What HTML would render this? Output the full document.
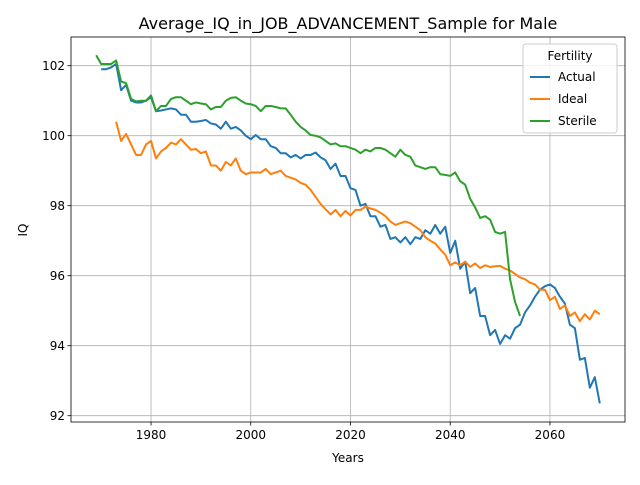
<!DOCTYPE html>
<html><head><meta charset="utf-8"><style>
body{margin:0;background:#fff;font-family:"Liberation Sans","DejaVu Sans",sans-serif}
svg text{font-family:"DejaVu Sans","Liberation Sans",sans-serif}
</style></head><body>
<svg id="chart" width="640" height="480" xmlns="http://www.w3.org/2000/svg">
<rect width="640" height="480" fill="#fff"/>
<g id="grid"></g><g id="series"></g><g id="axes"></g>
<text x="348" y="29" font-size="16" text-anchor="middle">Average_IQ_in_JOB_ADVANCEMENT_Sample for Male</text>
<text x="348" y="462" font-size="12" text-anchor="middle">Years</text>
<text x="27" y="230" font-size="12" text-anchor="middle" transform="rotate(-90 27 230)">IQ</text>
<g id="legend">
<rect x="523" y="44" width="94" height="89" rx="3" fill="#fff" fill-opacity="0.8" stroke="#ccc"/>
<text x="570" y="60" font-size="12" text-anchor="middle">Fertility</text>
<line x1="530" y1="77" x2="550" y2="77" stroke="#1f77b4" stroke-width="2"/><text x="558" y="81" font-size="12">Actual</text>
<line x1="530" y1="99" x2="550" y2="99" stroke="#ff7f0e" stroke-width="2"/><text x="558" y="103" font-size="12">Ideal</text>
<line x1="530" y1="121" x2="550" y2="121" stroke="#2ca02c" stroke-width="2"/><text x="558" y="125" font-size="12">Sterile</text>
</g>
</svg>
<script>
const actualStart = 1970;
const actualValues = [101.9,101.9,101.95,102.05,101.3,101.45,101.0,100.95,100.95,101.0,101.1,100.7,100.72,100.75,100.78,100.75,100.6,100.6,100.4,100.4,100.42,100.45,100.35,100.32,100.2,100.4,100.2,100.25,100.15,100.0,99.9,100.02,99.9,99.9,99.7,99.65,99.5,99.5,99.38,99.45,99.35,99.45,99.45,99.52,99.38,99.3,99.05,99.2,98.85,98.85,98.5,98.45,98.0,98.05,97.7,97.7,97.4,97.45,97.05,97.1,96.95,97.1,96.9,97.1,97.05,97.3,97.2,97.45,97.2,97.4,96.65,97.0,96.2,96.4,95.5,95.65,94.85,94.85,94.3,94.45,94.05,94.3,94.2,94.5,94.6,94.95,95.15,95.4,95.6,95.7,95.75,95.65,95.4,95.2,94.6,94.5,93.6,93.65,92.8,93.1,92.35];
const idealStart = 1973;
const idealValues = [100.4,99.85,100.05,99.75,99.45,99.45,99.75,99.85,99.35,99.55,99.65,99.8,99.75,99.9,99.75,99.6,99.62,99.5,99.55,99.15,99.15,99.0,99.25,99.15,99.35,99.0,98.9,98.95,98.95,98.95,99.05,98.9,98.95,99.0,98.85,98.8,98.75,98.65,98.6,98.45,98.25,98.05,97.9,97.75,97.88,97.7,97.85,97.72,97.88,97.88,97.97,97.92,97.88,97.8,97.7,97.55,97.45,97.5,97.55,97.5,97.4,97.3,97.1,97.0,96.92,96.75,96.6,96.3,96.38,96.3,96.4,96.25,96.35,96.22,96.3,96.25,96.27,96.28,96.2,96.15,96.05,95.95,95.9,95.8,95.75,95.6,95.6,95.3,95.4,95.05,95.15,94.85,94.95,94.7,94.9,94.75,95.0,94.9];
const sterileStart = 1969;
const sterileValues = [102.3,102.05,102.05,102.05,102.15,101.55,101.5,101.05,100.98,101.0,101.0,101.15,100.7,100.85,100.85,101.05,101.1,101.1,101.0,100.9,100.95,100.92,100.9,100.75,100.82,100.82,101.0,101.08,101.1,101.0,100.92,100.9,100.85,100.7,100.85,100.85,100.82,100.78,100.78,100.6,100.4,100.25,100.15,100.02,100.0,99.95,99.85,99.75,99.78,99.7,99.7,99.65,99.6,99.5,99.6,99.55,99.65,99.65,99.6,99.5,99.4,99.6,99.45,99.4,99.15,99.1,99.05,99.1,99.1,98.9,98.88,98.85,98.95,98.7,98.6,98.2,97.95,97.65,97.7,97.6,97.25,97.2,97.25,95.9,95.25,94.85];
const xTicks = [1980,2000,2020,2040,2060];
const yTicks = [92,94,96,98,100,102];

const L=71,R=625,T=37,B=422;
const xMin=1963.95,xMax=2075.05,yMin=91.82,yMax=102.82;
const xs=v=>L+(v-xMin)/(xMax-xMin)*(R-L);
const ys=v=>B-(v-yMin)/(yMax-yMin)*(B-T);
const NS="http://www.w3.org/2000/svg";
function mk(tag,attrs,parent){const e=document.createElementNS(NS,tag);for(const k in attrs)e.setAttribute(k,attrs[k]);parent.appendChild(e);return e;}
const grid=document.getElementById('grid'),axes=document.getElementById('axes'),ser=document.getElementById('series');
xTicks.forEach(t=>{const x=xs(t);
 const g=mk('line',{x1:x,x2:x,y1:T,y2:B,stroke:'#b0b0b0','stroke-width':0.8},grid);
 
 
 mk('line',{x1:x,x2:x,y1:B,y2:B+3.5,stroke:'#000','stroke-width':0.8},axes);
 const tx=mk('text',{x:x,y:B+17,'font-size':12,'text-anchor':'middle'},axes);tx.textContent=t;
 
 });
yTicks.forEach(t=>{const y=ys(t);
 const g=mk('line',{x1:L,x2:R,y1:y,y2:y,stroke:'#b0b0b0','stroke-width':0.8},grid);
 
 
 mk('line',{x1:L-3.5,x2:L,y1:y,y2:y,stroke:'#000','stroke-width':0.8},axes);
 const tx=mk('text',{x:L-6,y:y+4.5,'font-size':12,'text-anchor':'end'},axes);tx.textContent=t;
 
 });
mk('rect',{x:L,y:T,width:R-L,height:B-T,fill:'none',stroke:'#000','stroke-width':0.8},axes);
function line(start,vals,color,name){
 const pts=vals.map((v,i)=>xs(start+i).toFixed(2)+','+ys(v).toFixed(2)).join(' ');
 const p=mk('polyline',{points:pts,fill:'none',stroke:color,'stroke-width':2,'stroke-linejoin':'round'},ser);
 
 }
line(actualStart,actualValues,'#1f77b4','actual-line');
line(idealStart,idealValues,'#ff7f0e','ideal-line');
line(sterileStart,sterileValues,'#2ca02c','sterile-line');
</script>
</body></html>
